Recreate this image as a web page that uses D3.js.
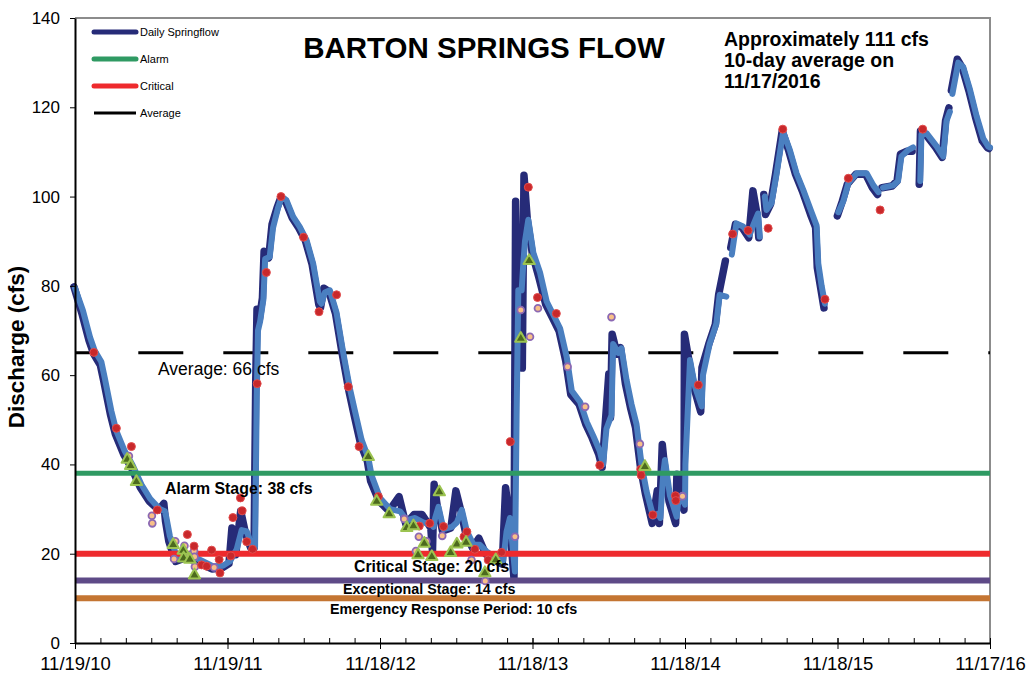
<!DOCTYPE html>
<html>
<head>
<meta charset="utf-8">
<script src="https://cdn.jsdelivr.net/npm/d3@7"></script>
<style>
  body { margin: 0; background: #fff; }
  svg { display: block; font-family: "Liberation Sans", Arial, sans-serif; }
</style>
</head>
<body>
<div id="chart"></div>
<script>
// daily springflow (navy) and the smoothed trace drawn over it (light blue); null = no record
var flowDates = [
  "2010-11-19","2010-12-08","2010-12-25","2011-01-05","2011-01-21","2011-01-29","2011-02-14","2011-02-26","2011-03-18","2011-04-06",
  "2011-04-27","2011-05-18","2011-06-10","2011-06-22","2011-06-26","2011-07-04","2011-07-20","2011-08-13","2011-09-06","2011-09-21",
  "2011-10-15","2011-11-08","2011-11-25","2011-12-02","2011-12-11","2011-12-23","2012-01-04","2012-01-16","2012-01-24","2012-01-28",
  "2012-01-31","2012-02-05","2012-02-13","2012-02-17","2012-02-28","2012-03-07","2012-03-19","2012-03-28","2012-04-08","2012-04-24",
  "2012-05-10","2012-05-26","2012-06-11","2012-06-27","2012-07-01","2012-07-09","2012-07-21","2012-08-06","2012-08-22","2012-09-07",
  "2012-09-19","2012-10-05","2012-10-21","2012-10-29","2012-11-18","2012-12-12","2013-01-05","2013-01-21","2013-02-10","2013-03-01",
  "2013-03-22","2013-03-26","2013-03-30","2013-04-07","2013-04-19","2013-05-09","2013-05-21","2013-06-02","2013-06-14","2013-06-30",
  "2013-07-15","2013-07-31","2013-08-24","2013-09-09","2013-09-17","2013-09-25","2013-10-07","2013-10-11","2013-10-15","2013-10-23",
  "2013-10-27","2013-10-31","2013-11-08","2013-11-20","2013-12-06","2013-12-22","2014-01-07","2014-01-23","2014-02-08","2014-02-20",
  "2014-03-12","2014-03-28","2014-04-12","2014-04-28","2014-05-06","2014-05-14","2014-05-22","2014-05-26","2014-05-30","2014-06-11",
  "2014-06-19","2014-07-01","2014-07-13","2014-07-25","2014-08-06","2014-08-18","2014-09-03","2014-09-15","2014-09-20","2014-09-27",
  "2014-10-01","2014-10-13","2014-10-29","2014-11-01","2014-11-10","2014-11-18","2014-11-19","2014-11-30","2014-12-12","2014-12-28",
  "2014-12-31","2015-01-16","2015-02-01","2015-02-09","2015-02-25","2015-03-03","2015-03-10","2015-03-21","2015-04-06","2015-04-22",
  "2015-05-02","2015-05-12","2015-05-16","2015-05-22","2015-05-28","2015-06-01","2015-06-13","2015-06-25","2015-07-11","2015-07-27",
  "2015-08-12","2015-08-28","2015-09-17","2015-09-29","2015-10-03","2015-10-11","2015-10-19","2015-11-01","2015-11-20","2015-12-02",
  "2015-12-14","2016-01-03","2016-01-27","2016-02-12","2016-02-24","2016-03-01","2016-03-06","2016-03-30","2016-04-11","2016-04-19",
  "2016-05-05","2016-05-17","2016-05-25","2016-06-03","2016-06-06","2016-06-18","2016-07-12","2016-07-28","2016-08-05","2016-08-13",
  "2016-08-16","2016-08-19","2016-09-02","2016-09-14","2016-09-30","2016-10-16","2016-11-01","2016-11-13","2016-11-17"
];
var dailyFlow = [
  80,74,68,65,62.5,59,51.5,47,42.5,39.4,
  35,32,30,31.5,27.5,23,18.5,19.3,18.6,17.9,
  16.8,17,18,26,20,29.8,24.6,21.5,21.5,59,
  75,72.3,77.5,88,86.5,94,97.7,100,99.2,95.5,
  93.2,90.3,85,76,75.3,79.7,79,74,65,56.7,
  51.5,44.8,41,36.5,32,29.8,33,26.9,29,29,
  26,20.8,35.8,30.5,25.3,26,34.3,29.8,24.6,21.5,
  23.7,20.2,18.6,17.9,35,29,14.8,99.2,79,80,
  61.8,105,95,87.4,82,76.1,73.1,70.1,63.4,55.9,
  53.7,49.2,46.2,42.5,39.5,50,60.5,50.7,69.4,64.9,
  66.4,58.2,52.9,48.5,39.5,33.5,27,34.3,27,44.7,
  41,32,27,38,32,30,69.4,63.4,57.4,52,
  61.9,67.1,71.6,78.3,85.8,null,88.8,94,93.3,91,
  101.5,96.2,91,null,100.7,96.2,98.5,105.2,114.9,110.4,
  105.2,101.5,96.2,93.3,84.3,79.8,75.3,null,95.9,99.2,
  103,105.2,105.2,102.2,100.7,null,102.2,102.6,103.7,109.7,
  110.4,110.4,null,103,114.9,114.2,111.3,109,117.2,120.1,
  null,124,131,129.1,123.9,117.9,112.7,111.2,111
];
var smoothFlow = [
  79.5,74.5,68.5,65.5,63,59.5,52,47.5,43,39.8,
  35.5,32.3,30,29.5,28,24,19.5,19.8,19,18.3,
  17.2,17.3,18.3,19.5,21,25.3,25,22,21.5,55,
  70,72,77,86,86.5,93,97.5,100,99.2,95.5,
  93.2,90.3,85,76.5,76,78.5,79,74,65,57,
  52,45.5,41.5,37.5,32.5,30,29.5,27.5,28,27,
  26.5,26,28,30.5,25.5,26,27,29.8,25,22,
  22,20.5,19,18.5,25,28,16,51.5,79,79,
  85,90,94.8,87.4,83,76.5,73.5,70.5,64,56.5,
  54,49.5,46.5,43,40,48,50,51,67,65,
  66,59,53.5,49,40,34,28.3,29,28,38,
  41,33,28.3,31,33,31,40,63.4,57.4,53,
  60,67,71.5,78,77.6,null,87,94,93.3,91.5,
  94,96.2,91,null,100,97,98.5,105,114.5,110.4,
  105.2,101.5,96.5,93.5,85,80,76,null,96.5,99,
  103,105.2,105.2,102.5,101,null,102,102.5,103.5,109,
  110.4,111,null,103.5,114,114.2,111.3,109,117,119,
  null,123,130,129,124,118,113,111.2,111
];

// individual measurements
var redDates = [
  "2011-01-03","2011-02-26","2011-04-03","2011-06-04","2011-08-15","2011-08-31","2011-09-18","2011-09-30","2011-10-12","2011-10-30",
  "2011-11-01","2011-11-27","2011-12-02","2011-12-20","2011-12-24","2012-01-04","2012-01-18","2012-01-29","2012-02-20","2012-03-26",
  "2012-05-19","2012-06-25","2012-08-06","2012-09-03","2012-09-29","2012-11-14","2013-02-20","2013-03-17","2013-04-19","2013-06-07",
  "2013-06-14","2013-07-03","2013-08-04","2013-09-05","2013-09-26","2013-11-08","2013-11-30","2014-01-14","2014-04-28","2014-08-04",
  "2014-08-05","2014-09-02","2014-10-26","2014-10-27","2014-12-20","2015-03-12","2015-04-18","2015-06-05","2015-07-10","2015-10-19",
  "2015-12-14","2016-02-28","2016-06-09"
];
var redValues = [
  65.1,48.1,44,29.8,24.3,21.7,17.5,17.2,20.8,18.7,
  15.7,19.5,28.1,32.5,29.6,22.7,21,58.1,83,100,
  90.9,74.2,78,57.4,44,32.8,26.2,26.8,26.1,23.8,
  24.9,21,18.6,20.3,45.1,102.1,77.4,73.8,39.8,38.9,
  37.6,28.7,33,31.9,57.8,91.6,92.4,92.9,115.1,77,
  104.1,97,115.1
];
var ringDates = [
  "2011-03-28","2011-05-22","2011-05-23","2011-07-17","2011-07-14","2011-08-08","2011-08-21","2011-08-31","2011-09-01","2011-09-02",
  "2011-10-18","2013-01-15","2013-02-19","2013-03-09","2013-02-12","2013-04-16","2013-06-25","2013-07-28","2013-10-07","2013-10-21",
  "2013-11-12","2013-12-01","2014-05-26","2014-02-10","2014-03-24","2014-08-02","2014-11-12"
];
var ringValues = [
  41.9,28.5,26.8,22.8,18.8,21.8,19.7,20.6,19.3,17.1,
  16.9,27.8,23.8,22.8,20.6,24,18.6,13.9,23.8,74.6,
  68.6,75,73,61.9,52.9,44.6,32.9
];
var triDates = [
  "2011-03-24","2011-04-01","2011-04-15","2011-07-12","2011-08-05","2011-08-06","2011-08-21","2011-09-01","2012-10-21","2012-11-10",
  "2012-12-10","2013-01-21","2013-02-06","2013-04-09","2013-03-04","2013-02-17","2013-03-22","2013-05-06","2013-05-21","2013-06-12",
  "2013-08-22","2013-07-27","2013-10-21","2013-11-10","2014-08-14"
];
var triValues = [
  41.1,39.7,36.1,22,20.7,19,18.7,15.2,41.7,31.7,
  28.9,25.8,26.2,33.8,22.3,19.7,19.3,20.2,22.1,22.5,
  18.6,15.7,68.2,85.6,39.5
];

// reference levels
var stageNames = ["Emergency Response Period", "Exceptional Stage", "Critical Stage", "Alarm Stage"];
var stageValues = [10, 14, 20, 38];
var stageColors = ["#c47532", "#5e4a87", "#ee2a2d", "#2f9a63"];
var averageValue = 65;
var averageLabel = "Average: 66 cfs";

var xTickLabels = ["11/19/10", "11/19/11", "11/18/12", "11/18/13", "11/18/14", "11/18/15", "11/17/16"];
var yTickValues = [0, 20, 40, 60, 80, 100, 120, 140];

var legendNames = ["Daily Springflow", "Alarm", "Critical", "Average"];
var legendColors = ["#262b78", "#2f9a63", "#ee2a2d", "#000"];

var titleText = "BARTON SPRINGS FLOW";
var noteLines = ["Approximately 111 cfs", "10-day average on", "11/17/2016"];

(function () {

  var width = 1027;
  var height = 680;
  var parseDate = d3.timeParse("%Y-%m-%d");
  var parseTick = d3.timeParse("%m/%d/%y");
  var majorDates = xTickLabels.map(parseTick);

  var x = d3.scaleTime()
    .domain([majorDates[0], majorDates[majorDates.length - 1]])
    .range([75, 990]);
  var y = d3.scaleLinear()
    .domain([0, 140])
    .range([643, 18]);

  // two-month minor ticks between the yearly labels
  var minorDates = [];
  for (var i = 0; i < majorDates.length - 1; i++) {
    var a = majorDates[i].getTime(), b = majorDates[i + 1].getTime();
    for (var k = 0; k <= 6; k++) {
      minorDates.push(new Date(a + (b - a) * k / 6));
    }
  }

  var svg = d3.select("#chart")
    .append("svg")
    .attr("width", width)
    .attr("height", height);

  // gray frame on top and right
  svg.append("path")
    .attr("d", "M" + x.range()[0] + "," + y(140) + "H" + x.range()[1] + "V" + y(0))
    .attr("fill", "none")
    .attr("stroke", "#8c8c8c")
    .attr("stroke-width", 2);

  // average dashed line
  svg.append("line")
    .attr("x1", x.range()[0])
    .attr("x2", x.range()[1])
    .attr("y1", y(averageValue))
    .attr("y2", y(averageValue))
    .attr("stroke", "#000")
    .attr("stroke-width", 3)
    .attr("stroke-dasharray", "45,40")
    .attr("stroke-dashoffset", 21.7);

  var flow = flowDates.map(function (d, i) {
    return { date: parseDate(d), daily: dailyFlow[i], smooth: smoothFlow[i] };
  });

  var dailyLine = d3.line()
    .defined(function (d) { return d.daily != null; })
    .x(function (d) { return x(d.date); })
    .y(function (d) { return y(d.daily); });

  var smoothLine = d3.line()
    .defined(function (d) { return d.smooth != null; })
    .x(function (d) { return x(d.date); })
    .y(function (d) { return y(d.smooth); });

  svg.append("path")
    .datum(flow)
    .attr("d", dailyLine)
    .attr("transform", "translate(-1,1)")
    .attr("fill", "none")
    .attr("stroke", "#262b78")
    .attr("stroke-width", 7.5)
    .attr("stroke-linejoin", "round")
    .attr("stroke-linecap", "round");

  svg.append("path")
    .datum(flow)
    .attr("d", smoothLine)
    .attr("fill", "none")
    .attr("stroke", "#4a7fc0")
    .attr("stroke-width", 6)
    .attr("stroke-linejoin", "round")
    .attr("stroke-linecap", "round");

  // stage lines
  svg.selectAll(".stage")
    .data(stageValues)
    .enter()
    .append("line")
    .attr("class", "stage")
    .attr("x1", x.range()[0])
    .attr("x2", x.range()[1])
    .attr("y1", function (d) { return y(d); })
    .attr("y2", function (d) { return y(d); })
    .attr("stroke", function (d, i) { return stageColors[i]; })
    .attr("stroke-width", function (d, i) { return i == 3 ? 5 : 6; });

  // markers
  svg.selectAll(".ring")
    .data(ringDates)
    .enter()
    .append("circle")
    .attr("class", "ring")
    .attr("cx", function (d) { return x(parseDate(d)); })
    .attr("cy", function (d, i) { return y(ringValues[i]); })
    .attr("r", 3.4)
    .attr("fill", "#f8c088")
    .attr("stroke", "#8b68b3")
    .attr("stroke-width", 1.8);

  svg.selectAll(".red")
    .data(redDates)
    .enter()
    .append("circle")
    .attr("class", "red")
    .attr("cx", function (d) { return x(parseDate(d)); })
    .attr("cy", function (d, i) { return y(redValues[i]); })
    .attr("r", 4)
    .attr("fill", "#c8282b")
    .attr("stroke", "#e24b4b")
    .attr("stroke-width", 1);

  var tri = d3.symbol().type(d3.symbolTriangle).size(55);
  svg.selectAll(".tri")
    .data(triDates)
    .enter()
    .append("path")
    .attr("class", "tri")
    .attr("d", tri)
    .attr("transform", function (d, i) {
      return "translate(" + x(parseDate(d)) + "," + y(triValues[i]) + ")";
    })
    .attr("fill", "#4c6a1e")
    .attr("stroke", "#9cc451")
    .attr("stroke-width", 2)
    .attr("stroke-linejoin", "round");

  // axes
  var xAxis = svg.append("g")
    .attr("transform", "translate(0," + y(0) + ")")
    .call(d3.axisBottom(x)
      .tickValues(majorDates)
      .tickFormat(function (d, i) { return xTickLabels[i]; })
      .tickSizeInner(6)
      .tickSizeOuter(0)
      .tickPadding(8));
  xAxis.select(".domain").attr("stroke", "#000").attr("stroke-width", 2);
  xAxis.selectAll("text")
    .attr("font-size", 18.5)
    .attr("font-family", "Liberation Sans, Arial, sans-serif")
    .attr("fill", "#000");

  svg.append("g")
    .attr("transform", "translate(0," + y(0) + ")")
    .call(d3.axisTop(x)
      .tickValues(minorDates)
      .tickFormat("")
      .tickSize(5))
    .select(".domain").remove();

  var yAxis = svg.append("g")
    .attr("transform", "translate(" + x.range()[0] + ",0)")
    .call(d3.axisLeft(y)
      .tickValues(yTickValues)
      .tickSizeInner(5)
      .tickSizeOuter(0)
      .tickPadding(10));
  yAxis.select(".domain").attr("stroke", "#000").attr("stroke-width", 2);
  yAxis.selectAll("text")
    .attr("font-size", 17)
    .attr("font-family", "Liberation Sans, Arial, sans-serif")
    .attr("fill", "#000");

  svg.append("text")
    .attr("transform", "translate(24,347) rotate(-90)")
    .attr("text-anchor", "middle")
    .attr("font-size", 22.5)
    .attr("font-weight", "bold")
    .text("Discharge (cfs)");

  // stage and average labels
  var stageLabelX = [330, 343, 354, 165];
  var stageLabelDy = [16, 13.5, 18.5, 21];
  var stageLabelSize = [14.3, 14.3, 15.8, 15.9];
  svg.selectAll(".stageLabel")
    .data(stageValues)
    .enter()
    .append("text")
    .attr("class", "stageLabel")
    .attr("x", function (d, i) { return stageLabelX[i]; })
    .attr("y", function (d, i) { return y(d) + stageLabelDy[i]; })
    .attr("font-size", function (d, i) { return stageLabelSize[i]; })
    .attr("font-weight", "bold")
    .text(function (d, i) { return stageNames[i] + ": " + d + " cfs"; });

  svg.append("text")
    .attr("x", 158)
    .attr("y", y(averageValue) + 22)
    .attr("font-size", 17.5)
    .text(averageLabel);

  // title and note
  svg.append("text")
    .attr("x", 484)
    .attr("y", 58)
    .attr("text-anchor", "middle")
    .attr("font-size", 29.5)
    .attr("font-weight", "bold")
    .text(titleText);

  svg.append("text")
    .attr("font-size", 19.5)
    .attr("font-weight", "bold")
    .selectAll("tspan")
    .data(noteLines)
    .enter()
    .append("tspan")
    .attr("x", 724)
    .attr("y", function (d, i) { return 46 + i * 21; })
    .text(function (d) { return d; });

  // legend
  var legend = svg.selectAll(".legend")
    .data(legendNames)
    .enter()
    .append("g")
    .attr("class", "legend")
    .attr("transform", function (d, i) { return "translate(94," + (32 + i * 27) + ")"; });

  legend.append("line")
    .attr("x1", 0)
    .attr("x2", 42)
    .attr("stroke", function (d, i) { return legendColors[i]; })
    .attr("stroke-width", function (d, i) { return i == 3 ? 3 : 5; })
    .attr("stroke-linecap", function (d, i) { return i == 3 ? "butt" : "round"; });

  legend.append("text")
    .attr("x", 46)
    .attr("y", 4)
    .attr("font-size", 11)
    .text(function (d) { return d; });

})();
</script>
</body>
</html>
